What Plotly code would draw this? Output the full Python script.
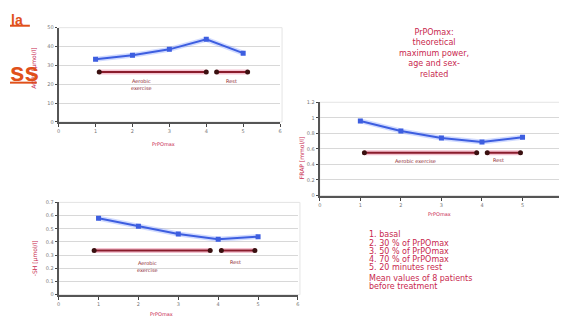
import plotly.graph_objects as go

stages = [1, 2, 3, 4, 5]
aopp = [33.3, 35.4, 38.5, 43.8, 36.5]
frap = [0.96, 0.83, 0.74, 0.69, 0.75]
sh = [0.58, 0.52, 0.46, 0.42, 0.44]

x_ticks = [0, 1, 2, 3, 4, 5, 6]
aopp_ticks = [0, 10, 20, 30, 40, 50]
frap_ticks = [0, 0.2, 0.4, 0.6, 0.8, 1, 1.2]
sh_ticks = [0, 0.1, 0.2, 0.3, 0.4, 0.5, 0.6, 0.7]

# phase spans (x start, x end) and arrow level per chart
aopp_aerobic = [1.1, 4.0]
aopp_rest = [4.28, 5.12]
aopp_arrow = 26.5
frap_aerobic = [1.1, 3.87]
frap_rest = [4.13, 4.95]
frap_arrow = 0.55
sh_aerobic = [0.89, 3.8]
sh_rest = [4.08, 4.92]
sh_arrow = 0.335

legend_lines = ["1. basal", "2. 30 % of PrPOmax", "3. 50 % of PrPOmax",
                "4. 70 % of PrPOmax", "5. 20 minutes rest"]
note_lines = ["Mean values of 8 patients", "before treatment"]
def_text = "PrPOmax:<br>theoretical<br>maximum power,<br>age and sex-<br>related"

W, H = 567, 325
RED = "#c8284e"
MAROON = "#8a1c2c"
BLUE = "#3d5ee0"
FONT = "DejaVu Sans"

def px(x):
    return x / W

def py(y):
    return 1 - y / H

fig = go.Figure()

charts = [
    ("", aopp, aopp_aerobic, aopp_rest, aopp_arrow, (49, 272), (17, 113), [0, 50], aopp_ticks),
    ("2", frap, frap_aerobic, frap_rest, frap_arrow, (312, 557), (93, 188), [0, 1.2], frap_ticks),
    ("3", sh, sh_aerobic, sh_rest, sh_arrow, (49, 290), (195, 289), [0, 0.7], sh_ticks),
]

for suf, vals, aer, rest, lvl, (x0, x1), (y0, y1), yr, yt in charts:
    xa = "x" + suf
    ya = "y" + suf
    for span in (aer, rest):
        fig.add_trace(go.Scatter(x=span, y=[lvl, lvl], xaxis=xa, yaxis=ya, mode="lines",
                                 line=dict(color="rgba(230,120,150,0.45)", width=5),
                                 hoverinfo="skip", showlegend=False))
        fig.add_trace(go.Scatter(x=span, y=[lvl, lvl], xaxis=xa, yaxis=ya, mode="lines+markers",
                                 line=dict(color=MAROON, width=2),
                                 marker=dict(symbol="circle", size=5, color="#3a1010"),
                                 hoverinfo="skip", showlegend=False))
    fig.add_trace(go.Scatter(x=stages, y=vals, xaxis=xa, yaxis=ya, mode="lines",
                             line=dict(color="rgba(120,150,255,0.35)", width=5),
                             hoverinfo="skip", showlegend=False))
    fig.add_trace(go.Scatter(x=stages, y=vals, xaxis=xa, yaxis=ya, mode="lines+markers",
                             line=dict(color=BLUE, width=2),
                             marker=dict(symbol="square", size=5, color=BLUE),
                             showlegend=False))
    key = "xaxis" + suf
    ykey = "yaxis" + suf
    fig.layout[key] = dict(domain=[px(x0), px(x1)], range=[0, 6], anchor=ya,
                           tickvals=x_ticks, ticks="outside", ticklen=3, tickcolor="#444",
                           tickfont=dict(size=5, color="#777", family=FONT),
                           showgrid=False, zeroline=False, showline=True,
                           linecolor="#555", linewidth=2, fixedrange=True)
    fig.layout[ykey] = dict(domain=[py(y1), py(y0)], range=yr, anchor=xa,
                            tickvals=yt, ticks="outside", ticklen=2, tickcolor="#444",
                            tickfont=dict(size=5, color="#777", family=FONT),
                            showgrid=True, gridcolor="#d8d8d8", gridwidth=1,
                            zeroline=False, showline=True,
                            linecolor="#555", linewidth=2, fixedrange=True)
    fig.add_shape(type="rect", xref="paper", yref="paper",
                  x0=px(x0), x1=px(x1 + 2), y0=py(y1), y1=py(y0),
                  line=dict(color="#e4e4e4", width=1), layer="below")

ann = []
def text(x, y, s, size=6, color=RED, angle=0, xanchor="center", align="center"):
    ann.append(dict(x=px(x), y=py(y), xref="paper", yref="paper", text=s, showarrow=False,
                    font=dict(size=size, color=color, family=FONT), textangle=angle,
                    xanchor=xanchor, yanchor="middle", align=align))

# axis titles
text(24, 58, "AOPP [µmol/l]", size=6, angle=-90)
text(293, 150, "FRAP [mmol/l]", size=6, angle=-90)
text(26, 252, "-SH [µmol/l]", size=6, angle=-90)
text(155, 135, "PrPOmax", size=5)
text(433, 207, "PrPOmax", size=5)
text(153, 309, "PrPOmax", size=5)

# phase labels
text(132, 75, "Aerobic<br>exercise", size=5, color=MAROON)
text(223, 71, "Rest", size=5, color=MAROON)
text(408, 153, "Aerobic exercise", size=5, color=MAROON)
text(492, 152, "Rest", size=5, color=MAROON)
text(138, 260, "Aerobic<br>exercise", size=5, color=MAROON)
text(227, 256, "Rest", size=5, color=MAROON)

# definition text
text(427, 43, def_text, size=8)

# legend block
for i, s in enumerate(legend_lines):
    text(360, 228 + i * 8.4, s, size=8, xanchor="left")
for i, s in enumerate(note_lines):
    text(360, 273 + i * 8, s, size=8, xanchor="left")

# orange title fragments
ORANGE = "#e0501a"
ann.append(dict(x=0, y=1, xref="paper", yref="paper", text="<b>la</b>", showarrow=False,
                font=dict(size=14, color=ORANGE, family="Liberation Sans"),
                xanchor="left", yanchor="top", borderpad=0))
ann.append(dict(x=px(-2), y=py(62), xref="paper", yref="paper", text="<b>ss</b>", showarrow=False,
                font=dict(size=26, color=ORANGE, family="Liberation Sans"),
                xanchor="left", yanchor="middle"))
fig.add_shape(type="line", xref="paper", yref="paper", x0=0, x1=px(20), y0=py(15), y1=py(15),
              line=dict(color=ORANGE, width=2))
fig.add_shape(type="line", xref="paper", yref="paper", x0=0, x1=px(27), y0=py(73), y1=py(73),
              line=dict(color=ORANGE, width=2))

fig.update_layout(width=W, height=H, margin=dict(l=0, r=0, t=0, b=0),
                  paper_bgcolor="white", plot_bgcolor="white",
                  annotations=ann, showlegend=False)

fig.write_html("out.html")
